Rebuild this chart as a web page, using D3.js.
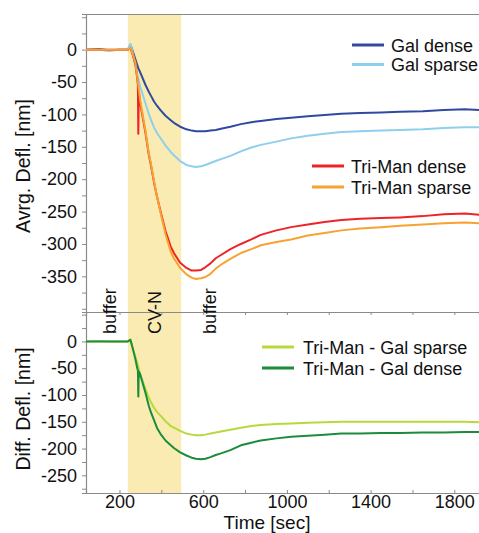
<!DOCTYPE html>
<html>
<head>
<meta charset="utf-8">
<script src="https://cdn.jsdelivr.net/npm/d3@7"></script>
<style>
  body { margin: 0; background: #fff; }
  svg text { font-family: "Liberation Sans", Arial, sans-serif; fill: #111; }
</style>
</head>
<body>
<div id="chart"></div>
<script>
// time points (sec) shared by all traces
var time = [40, 100, 150, 200, 240, 252, 258, 276, 285, 288, 290, 292, 295, 300, 325, 340, 350, 365, 380, 395,
            420, 445, 460, 490, 520, 545, 565, 590, 610, 635, 660, 685, 730, 780, 830, 875, 950, 1020, 1100, 1180,
            1260, 1350, 1450, 1540, 1650, 1750, 1850, 1918];

// top panel: average deflection [nm]
var galDense = [0, 1, -1, 0, 0, 7, 3, -15, -24, -27, -29, -30, -32, -36, -55, -65, -71, -80, -87, -93,
                -102, -109, -113, -119, -123, -125, -126, -126, -126, -125, -124, -122, -119, -115, -112, -110, -107, -105, -103, -101,
                -99, -98, -97, -96, -95, -93, -92, -93];
var galSparse = [0, 0, -2, 0, 0, 9, 3, -25, -38, -42, -45, -48, -52, -58, -84, -99, -108, -120, -129, -136,
                 -148, -158, -163, -172, -178, -180, -181, -180, -178, -175, -172, -169, -164, -157, -151, -147, -142, -137, -133, -130,
                 -127, -126, -125, -124, -123, -121, -120, -120];
var triManDense = [0, 0, 0, 0, 0, 2, -3, -22, -45, -55, -130, -65, -72, -85, -130, -162, -178, -205, -228, -248,
                   -280, -304, -314, -329, -337, -341, -341, -340, -336, -330, -322, -317, -308, -300, -293, -286, -279, -274, -270, -266,
                   -263, -261, -260, -259, -257, -254, -253, -255];
var triManSparse = [0, 0, 0, 0, 0, 3, -2, -20, -42, -50, -55, -60, -68, -80, -127, -160, -176, -203, -228, -250,
                    -285, -312, -322, -337, -347, -352, -354, -353, -351, -346, -338, -332, -323, -314, -308, -302, -297, -293, -287, -283,
                    -279, -276, -274, -272, -270, -268, -267, -268];

// bottom panel: difference deflection [nm]
var diffSparse = [0, 1, 0, 0, 0, 4, -5, -28, -40, -44, -47, -50, -55, -62, -90, -105, -113, -124, -132, -138,
                  -149, -158, -161, -167, -172, -174, -175, -175, -174, -172, -170, -168, -165, -161, -158, -156, -154, -153, -152, -151,
                  -150, -150, -150, -150, -150, -150, -150, -151];
var diffDense = [0, 0, 0, 0, 0, 3, -5, -33, -50, -54, -103, -56, -58, -63, -97, -120, -132, -147, -162, -172,
                 -185, -194, -199, -207, -213, -217, -219, -220, -219, -216, -212, -209, -203, -194, -189, -185, -181, -178, -176, -174,
                 -172, -172, -171, -171, -170, -170, -169, -169];

// injection phases
var phases = [{label: "buffer", t: 157}, {label: "CV-N", t: 372}, {label: "buffer", t: 634}];
var cvnStart = 240, cvnEnd = 495;

var xTicks = [200, 400, 600, 800, 1000, 1200, 1400, 1600, 1800];
var xLabels = [200, 600, 1000, 1400, 1800];
var topTicks = d3.range(-400, 51, 25);
var topLabels = [0, -50, -100, -150, -200, -250, -300, -350];
var botTicks = d3.range(-275, 51, 25);
var botLabels = [0, -50, -100, -150, -200, -250];

var topSeries = [
  {name: "Gal dense", values: galDense, color: "#2f4aa0"},
  {name: "Gal sparse", values: galSparse, color: "#8ecfee"},
  {name: "Tri-Man dense", values: triManDense, color: "#ee2424"},
  {name: "Tri-Man sparse", values: triManSparse, color: "#f7a233"}
];
var botSeries = [
  {name: "Tri-Man - Gal sparse", values: diffSparse, color: "#b7d93c"},
  {name: "Tri-Man - Gal dense", values: diffDense, color: "#1b8c3c"}
];

var W = 479, H = 533;
var plotLeft = 86, plotRight = 479, plotTop = 14, plotMid = 312, plotBottom = 493;
var axisColor = "#8a8a8a";

var svg = d3.select("#chart").append("svg")
    .attr("width", W)
    .attr("height", H);

// scales
var x = d3.scaleLinear().domain([40, 1918]).range([plotLeft, plotRight]);
var yTop = d3.scaleLinear().domain([-405, 55]).range([plotMid, plotTop]);
var yBot = d3.scaleLinear().domain([-283, 55]).range([plotBottom, plotMid]);

svg.append("clipPath").attr("id", "clip")
  .append("rect")
    .attr("x", plotLeft).attr("y", plotTop)
    .attr("width", plotRight - plotLeft).attr("height", plotBottom - plotTop);

// CV-N band across both panels
svg.append("rect")
    .attr("x", x(cvnStart))
    .attr("y", plotTop)
    .attr("width", x(cvnEnd) - x(cvnStart))
    .attr("height", plotBottom - plotTop)
    .style("fill", "#f9ebb2");

// top frame line
svg.append("line").attr("x1", plotLeft).attr("x2", plotRight).attr("y1", plotTop + 0.5).attr("y2", plotTop + 0.5)
    .style("stroke", axisColor).style("stroke-width", 1.2);

// left axes
function leftAxis(scale, ticks, labels) {
  var g = svg.append("g").attr("transform", "translate(" + plotLeft + ",0)");
  g.call(d3.axisLeft(scale).tickValues(ticks).tickSize(4).tickPadding(5)
      .tickFormat(function(d) { return labels.indexOf(d) >= 0 ? d : ""; }));
  g.select(".domain").style("stroke", axisColor).style("stroke-width", 1.2);
  g.selectAll(".tick line").style("stroke", axisColor);
  g.selectAll(".tick text").style("font-size", "18px").style("font-family", "Liberation Sans, Arial, sans-serif")
      .style("fill", "#111");
  return g;
}
leftAxis(yTop, topTicks, topLabels);
leftAxis(yBot, botTicks, botLabels);

// separator line with inward ticks
var sep = svg.append("g").attr("transform", "translate(0," + plotMid + ")")
    .call(d3.axisBottom(x).tickValues(xTicks).tickSize(3).tickFormat(""));
sep.select(".domain").style("stroke", axisColor).style("stroke-width", 1.2);
sep.selectAll(".tick line").style("stroke", axisColor);

// bottom axis
var xg = svg.append("g").attr("transform", "translate(0," + plotBottom + ")")
    .call(d3.axisBottom(x).tickValues(xTicks).tickSize(-3).tickPadding(2)
      .tickFormat(function(d) { return xLabels.indexOf(d) >= 0 ? d : ""; }));
xg.select(".domain").style("stroke", axisColor).style("stroke-width", 1.2);
xg.selectAll(".tick line").style("stroke", axisColor);
xg.selectAll(".tick text").style("font-size", "18px").style("font-family", "Liberation Sans, Arial, sans-serif")
    .style("fill", "#111");

// phase labels
svg.selectAll(".phase")
    .data(phases)
  .enter().append("text")
    .attr("class", "phase")
    .attr("transform", function(d) { return "translate(" + (x(d.t) + 6) + ",334) rotate(-90)"; })
    .style("font-size", "18px")
    .text(function(d) { return d.label; });

// traces
function drawLines(series, scale) {
  var line = d3.line()
      .x(function(d, i) { return x(time[i]); })
      .y(function(d) { return scale(d); });
  svg.append("g").attr("clip-path", "url(#clip)")
    .selectAll("path")
      .data(series)
    .enter().append("path")
      .attr("d", function(s) { return line(s.values); })
      .style("fill", "none")
      .style("stroke", function(s) { return s.color; })
      .style("stroke-width", 2)
      .style("stroke-linejoin", "round");
}
drawLines(topSeries, yTop);
drawLines(botSeries, yBot);

// legends
function legend(items, lx, ly, gap) {
  var g = svg.append("g");
  items.forEach(function(s, i) {
    g.append("line")
        .attr("x1", lx).attr("x2", lx + 32)
        .attr("y1", ly + i * gap).attr("y2", ly + i * gap)
        .style("stroke", s.color).style("stroke-width", 3);
    g.append("text")
        .attr("x", lx + 39 + (lx < 300 ? 2 : 0))
        .attr("y", ly + i * gap + 6.5)
        .style("font-size", "18px")
        .text(s.name);
  });
}
legend(topSeries.slice(0, 2), 352, 45, 19.5);
legend(topSeries.slice(2, 4), 312, 166, 21);
legend(botSeries, 262, 347, 21);

// axis titles
svg.append("text")
    .attr("transform", "translate(30,166) rotate(-90)")
    .attr("text-anchor", "middle")
    .style("font-size", "19.5px")
    .text("Avrg. Defl. [nm]");
svg.append("text")
    .attr("transform", "translate(30,409) rotate(-90)")
    .attr("text-anchor", "middle")
    .style("font-size", "19.5px")
    .text("Diff. Defl. [nm]");
svg.append("text")
    .attr("x", 267)
    .attr("y", 529)
    .attr("text-anchor", "middle")
    .style("font-size", "19px")
    .text("Time [sec]");
</script>
</body>
</html>
